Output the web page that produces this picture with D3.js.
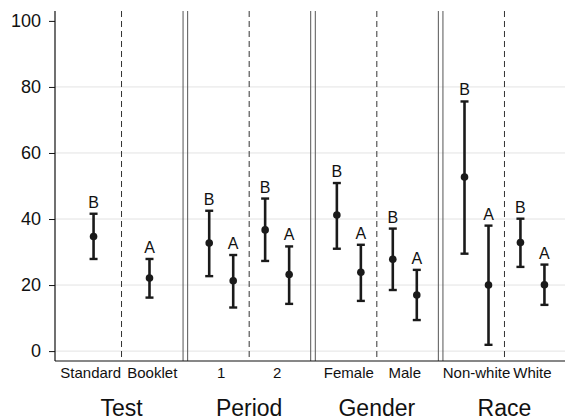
<!DOCTYPE html>
<html>
<head>
<meta charset="utf-8">
<script src="https://cdn.jsdelivr.net/npm/d3@7"></script>
<style>
  body { margin: 0; background: #fff; }
  text { font-family: "Liberation Sans", Arial, sans-serif; fill: #111; }
</style>
</head>
<body>
<div id="chart"></div>
<script>
// Data
var facets = ["Test", "Period", "Gender", "Race"];
var facetCategories = [["Standard", "Booklet"], ["1", "2"], ["Female", "Male"], ["Non-white", "White"]];

var pointFacet    = ["Test", "Test", "Period", "Period", "Period", "Period", "Gender", "Gender", "Gender", "Gender", "Race", "Race", "Race", "Race"];
var pointCategory = ["Standard", "Booklet", "1", "1", "2", "2", "Female", "Female", "Male", "Male", "Non-white", "Non-white", "White", "White"];
var pointGroup    = ["B", "A", "B", "A", "B", "A", "B", "A", "B", "A", "B", "A", "B", "A"];
var pointValue    = [34.7, 22.1, 32.7, 21.3, 36.7, 23.2, 41.2, 23.9, 27.8, 17.0, 52.7, 20.0, 32.9, 20.1];
var pointLower    = [27.9, 16.2, 22.7, 13.2, 27.3, 14.3, 31.0, 15.2, 18.5, 9.4, 29.5, 1.9, 25.5, 14.0];
var pointUpper    = [41.6, 27.9, 42.5, 29.1, 46.2, 31.7, 50.9, 32.2, 37.1, 24.6, 75.6, 38.0, 40.1, 26.2];

var yTicks = [0, 20, 40, 60, 80, 100];

var points = pointValue.map(function(v, i) {
  return {
    facet: pointFacet[i], category: pointCategory[i], group: pointGroup[i],
    value: v, lower: pointLower[i], upper: pointUpper[i]
  };
});

// Chart Params
var svgWidth = 565;
var svgHeight = 419;
var axisX = 55;
var plotBottom = 361;

var svg = d3.select("#chart")
  .append("svg")
  .attr("width", svgWidth)
  .attr("height", svgHeight);

// Scales
var yScale = d3.scaleLinear().domain([-3, 103]).range([plotBottom, 11]);

var facetScale = d3.scaleBand()
  .domain(facets)
  .range([60, 566])
  .paddingInner(0.036);

function catScale(facet, pad) {
  var i = facets.indexOf(facet);
  var x0 = facetScale(facet);
  return d3.scalePoint()
    .domain(facetCategories[i])
    .range([x0, x0 + facetScale.bandwidth()])
    .padding(pad === undefined ? 0.6 : pad);
}

var dodge = d3.scalePoint().domain(["B", "A"]).range([-12, 12]);

function xPos(d) {
  var off = d.facet === "Test" ? 0 : dodge(d.group);
  return catScale(d.facet)(d.category) + off;
}

// Gridlines
svg.append("g").selectAll("line")
  .data(yTicks.filter(function(t) { return t < 100; }))
  .enter()
  .append("line")
  .attr("x1", axisX)
  .attr("x2", svgWidth)
  .attr("y1", function(d) { return yScale(d); })
  .attr("y2", function(d) { return yScale(d); })
  .attr("stroke", "#e3e3e3")
  .attr("stroke-width", 1);

// Panel borders (double lines between facets)
facets.forEach(function(f, i) {
  var x0 = facetScale(f);
  var x1 = x0 + facetScale.bandwidth();
  if (i > 0) {
    svg.append("line")
      .attr("x1", x0).attr("x2", x0)
      .attr("y1", 11).attr("y2", plotBottom)
      .attr("stroke", "#555").attr("stroke-width", 1);
  }
  if (i < facets.length - 1) {
    svg.append("line")
      .attr("x1", x1).attr("x2", x1)
      .attr("y1", 11).attr("y2", plotBottom)
      .attr("stroke", "#555").attr("stroke-width", 1);
  }
  // dashed divider between categories
  var xm = (x0 + x1) / 2;
  svg.append("line")
    .attr("x1", xm).attr("x2", xm)
    .attr("y1", 11).attr("y2", plotBottom)
    .attr("stroke", "#333").attr("stroke-width", 1)
    .attr("stroke-dasharray", "6,4");

  // category labels (Test labels sit a bit wider apart)
  var labelScale = catScale(f, f === "Test" ? 0.5 : 0.6);
  facetCategories[i].forEach(function(c) {
    svg.append("text")
      .attr("x", labelScale(c))
      .attr("y", 377.5)
      .attr("text-anchor", "middle")
      .style("font-size", "15px")
      .text(c);
  });

  // facet title
  svg.append("text")
    .attr("x", xm)
    .attr("y", 415.5)
    .attr("text-anchor", "middle")
    .style("font-size", "23px")
    .text(f);
});

// Axes
var leftAxis = d3.axisLeft(yScale)
  .tickValues(yTicks)
  .tickSize(6)
  .tickPadding(8);

var yAxisG = svg.append("g")
  .attr("transform", "translate(" + axisX + ",0)")
  .call(leftAxis);
yAxisG.select(".domain").remove();
yAxisG.selectAll(".tick line").attr("stroke", "#111");
yAxisG.selectAll(".tick text")
  .style("font-size", "18px")
  .style("font-family", "'Liberation Sans', Arial, sans-serif")
  .attr("fill", "#111");

svg.append("line")
  .attr("x1", axisX).attr("x2", axisX)
  .attr("y1", 11).attr("y2", plotBottom)
  .attr("stroke", "#111").attr("stroke-width", 1.2);

svg.append("line")
  .attr("x1", axisX).attr("x2", svgWidth)
  .attr("y1", plotBottom).attr("y2", plotBottom)
  .attr("stroke", "#111").attr("stroke-width", 1.2);

// Error bars
var bars = svg.append("g").selectAll("g")
  .data(points)
  .enter()
  .append("g");

bars.append("line")
  .attr("x1", xPos).attr("x2", xPos)
  .attr("y1", function(d) { return yScale(d.lower); })
  .attr("y2", function(d) { return yScale(d.upper); })
  .attr("stroke", "#1a1a1a").attr("stroke-width", 2.6);

bars.append("line")
  .attr("x1", function(d) { return xPos(d) - 4; })
  .attr("x2", function(d) { return xPos(d) + 4; })
  .attr("y1", function(d) { return yScale(d.upper); })
  .attr("y2", function(d) { return yScale(d.upper); })
  .attr("stroke", "#1a1a1a").attr("stroke-width", 2.4);

bars.append("line")
  .attr("x1", function(d) { return xPos(d) - 4; })
  .attr("x2", function(d) { return xPos(d) + 4; })
  .attr("y1", function(d) { return yScale(d.lower); })
  .attr("y2", function(d) { return yScale(d.lower); })
  .attr("stroke", "#1a1a1a").attr("stroke-width", 2.4);

bars.append("circle")
  .attr("cx", xPos)
  .attr("cy", function(d) { return yScale(d.value); })
  .attr("r", 3.8)
  .attr("fill", "#1a1a1a");

bars.append("text")
  .attr("x", xPos)
  .attr("y", function(d) { return yScale(d.upper) - 6; })
  .attr("text-anchor", "middle")
  .style("font-size", "16px")
  .text(function(d) { return d.group; });
</script>
</body>
</html>
